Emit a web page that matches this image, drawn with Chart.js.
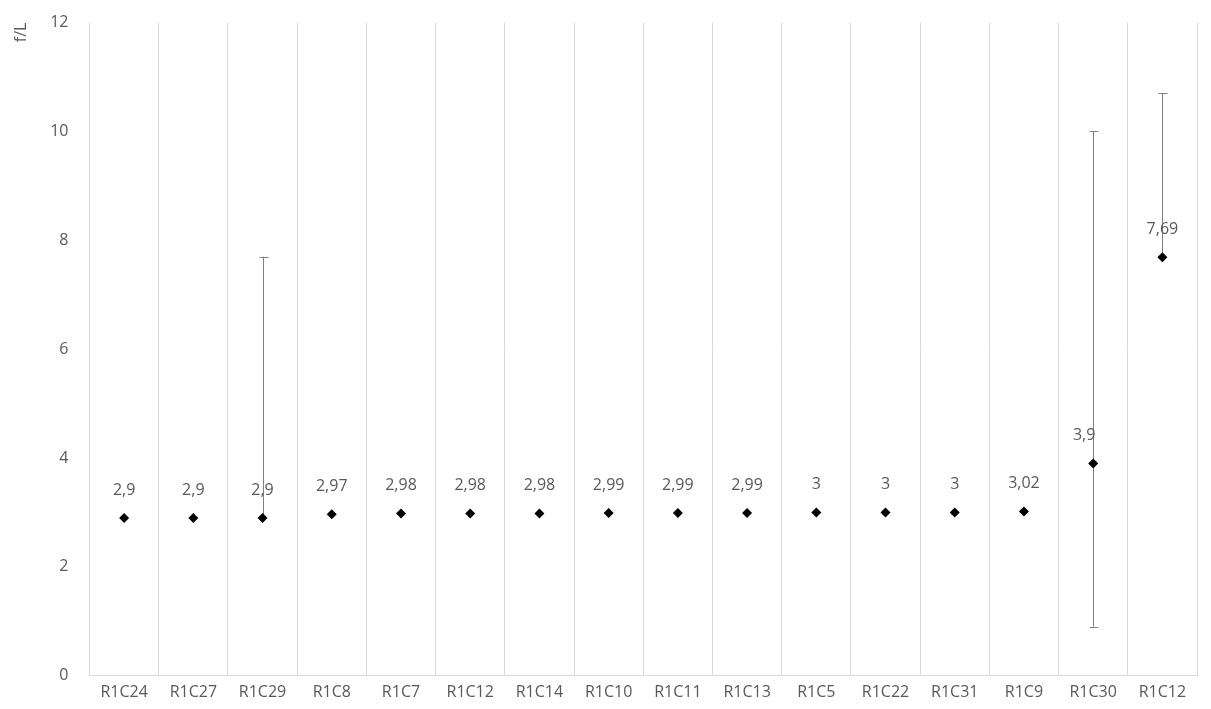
<!DOCTYPE html>
<html>
<head>
<meta charset="utf-8">
<script src="https://cdn.jsdelivr.net/npm/chart.js@4"></script>
<style>
  html, body { margin: 0; padding: 0; background: #fff; }
  #wrap { width: 1211px; height: 709px; }
</style>
</head>
<body>
<div id="wrap"><canvas id="myChart" width="1211" height="709"></canvas></div>
<script>
// categories and values
var labels = ["R1C24", "R1C27", "R1C29", "R1C8", "R1C7", "R1C12", "R1C14", "R1C10",
              "R1C11", "R1C13", "R1C5", "R1C22", "R1C31", "R1C9", "R1C30", "R1C12"];
var values = [2.9, 2.9, 2.9, 2.97, 2.98, 2.98, 2.98, 2.99, 2.99, 2.99, 3, 3, 3, 3.02, 3.9, 7.69];
// error bar ends (null = no bar)
var errLow  = [null, null, 2.9, null, null, null, null, null, null, null, null, null, null, null, 0.9, 7.69];
var errHigh = [null, null, 7.7, null, null, null, null, null, null, null, null, null, null, null, 10, 10.7];
var yTicks = [0, 2, 4, 6, 8, 10, 12];

var textColor = '#595959';
var fontFamily = "'Open Sans', 'Noto Sans', sans-serif";

function fmt(v) {
    return String(v).replace('.', ',');
}

// draws the error bars behind the points
var errorBars = {
    id: 'errorBars',
    beforeDatasetsDraw: function (chart) {
        var ctx = chart.ctx;
        var x = chart.scales.x, y = chart.scales.y;
        ctx.save();
        ctx.strokeStyle = '#808080';
        ctx.lineWidth = 1;
        for (var i = 0; i < values.length; i++) {
            if (errLow[i] == null) continue;
            var px = Math.round(x.getPixelForValue(i)) + 0.5;
            var top = y.getPixelForValue(errHigh[i]);
            var bot = y.getPixelForValue(errLow[i]);
            ctx.beginPath();
            ctx.moveTo(px, top);
            ctx.lineTo(px, bot);
            ctx.moveTo(px - 4, Math.round(top) + 0.5);
            ctx.lineTo(px + 5, Math.round(top) + 0.5);
            if (errLow[i] < values[i]) {
                ctx.moveTo(px - 4, Math.round(bot) + 0.5);
                ctx.lineTo(px + 5, Math.round(bot) + 0.5);
            }
            ctx.stroke();
        }
        ctx.restore();
    }
};

// value labels above the points
var valueLabels = {
    id: 'valueLabels',
    afterDatasetsDraw: function (chart) {
        var ctx = chart.ctx;
        var meta = chart.getDatasetMeta(0);
        ctx.save();
        ctx.fillStyle = textColor;
        ctx.font = "16px " + fontFamily;
        ctx.textAlign = 'center';
        ctx.textBaseline = 'middle';
        meta.data.forEach(function (pt, i) {
            var dx = (i === 14) ? -9 : 0;
            ctx.fillText(fmt(values[i]), pt.x + dx, pt.y - 28);
        });
        ctx.restore();
    }
};

var ctx = document.getElementById('myChart').getContext('2d');
var myChart = new Chart(ctx, {
    type: 'line',
    data: {
        labels: labels,
        datasets: [{
            data: values,
            showLine: false,
            pointStyle: 'rectRot',
            pointRadius: 5,
            pointBackgroundColor: '#000',
            pointBorderColor: '#000',
            pointBorderWidth: 0
        }]
    },
    options: {
        responsive: false,
        animation: false,
        layout: { padding: { left: 12, right: 14, top: 22, bottom: 0 } },
        plugins: {
            legend: { display: false },
            tooltip: { enabled: false }
        },
        scales: {
            x: {
                offset: true,
                grid: { display: true, offset: true, color: '#d9d9d9', drawTicks: false },
                border: { color: '#d9d9d9' },
                ticks: { color: textColor, font: { size: 16, family: fontFamily }, padding: 7, maxRotation: 0, autoSkip: false }
            },
            y: {
                min: 0,
                max: 12,
                afterBuildTicks: function (axis) {
                    axis.ticks = yTicks.map(function (v) { return { value: v }; });
                },
                grid: { display: false },
                border: { display: false },
                ticks: { color: textColor, font: { size: 16, family: fontFamily }, padding: 13 },
                title: {
                    display: true,
                    text: 'f/L',
                    align: 'end',
                    color: textColor,
                    font: { size: 16, family: fontFamily },
                    padding: { top: 0, bottom: 6 }
                }
            }
        }
    },
    plugins: [errorBars, valueLabels]
});
</script>
</body>
</html>
